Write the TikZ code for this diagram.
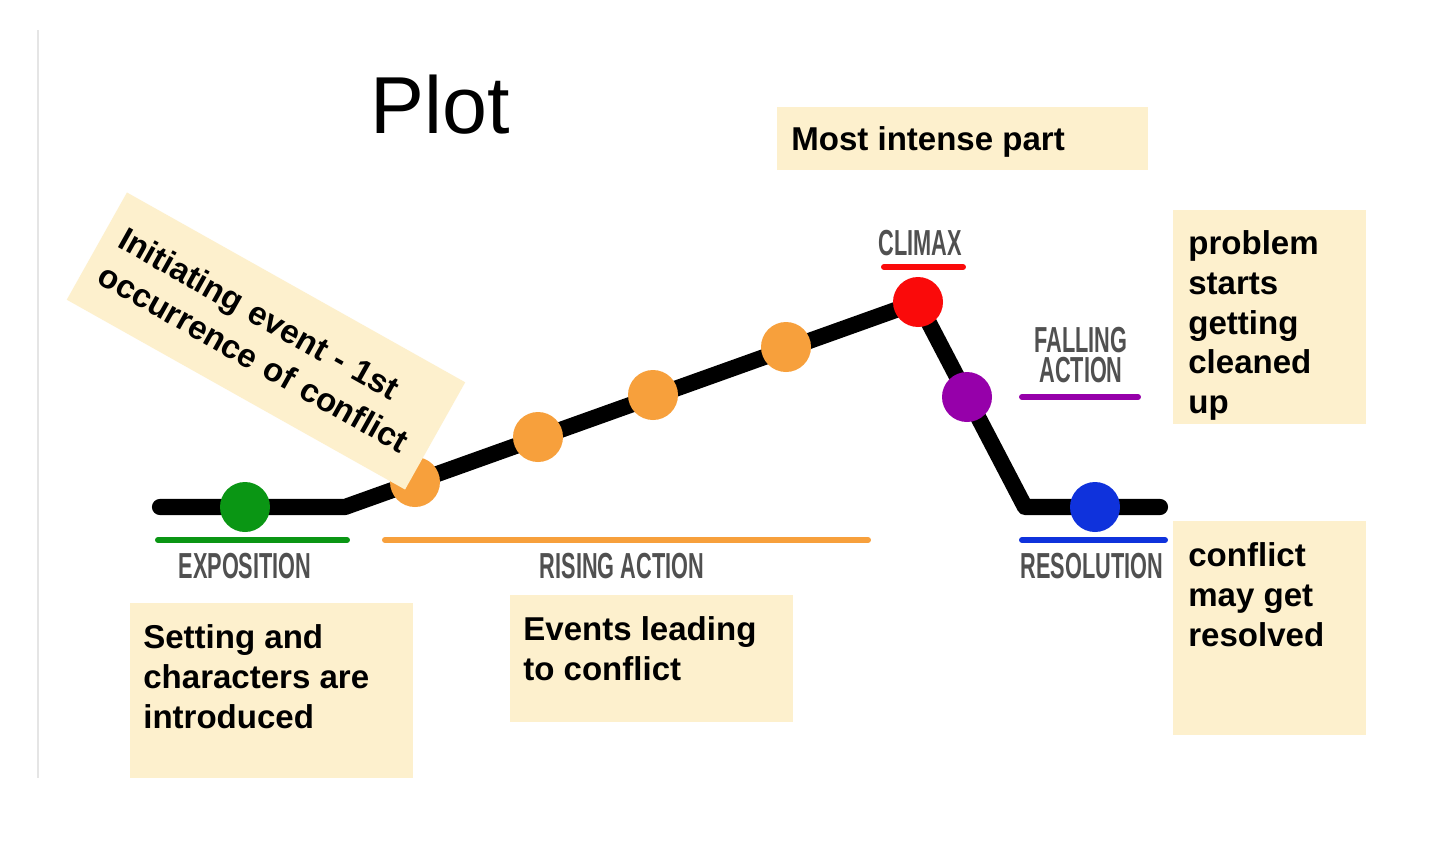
\documentclass[tikz,border=0pt]{standalone}
\usepackage{fontspec}
\setmainfont{Liberation Sans}
\newfontfamily\stagefont[FakeStretch=0.6]{Liberation Sans}
\usetikzlibrary{calc}
\definecolor{note}{RGB}{253,240,205}
\definecolor{expo}{RGB}{10,150,20}
\definecolor{rise}{RGB}{247,160,60}
\definecolor{peak}{RGB}{250,10,10}
\definecolor{fall}{RGB}{150,0,170}
\definecolor{resol}{RGB}{15,50,220}
\definecolor{stagegray}{RGB}{80,80,80}
\begin{document}
\begin{tikzpicture}[x=0.02cm,y=-0.02cm,
 notebox/.style={fill=note,inner sep=0,anchor=north west},
 notetxt/.style={anchor=north west,inner sep=0,align=left,font=\fontsize{18.8}{22.7}\selectfont\bfseries},
 dot/.style={circle,fill=#1,inner sep=0,minimum size=1cm},
 stage/.style={text=stagegray,inner sep=0,align=center,font=\stagefont\bfseries\fontsize{20.6}{17.6}\selectfont},
 bar/.style={line width=3.4pt,line cap=round,#1}]
\path[use as bounding box,fill=white](0,0)rectangle(1440,849);
\draw[line width=1.5pt,black!10](38,30)--(38,778);
\node[font=\fontsize{46}{50}\selectfont](title)at(440,105){Plot};
% the plot line
\coordinate(start)at(160,507);\coordinate(bend1)at(345,507);\coordinate(top)at(918,302);
\coordinate(bend2)at(1025,507);\coordinate(end)at(1160,507);
\draw[line width=9.2pt,line cap=round,line join=round](start)--(bend1)--(top)--(bend2)--(end);
\node[dot=expo](e)at(245,507){};
\node[dot=rise](r1)at(415,482){};\node[dot=rise](r2)at(538,437){};
\node[dot=rise](r3)at(653,395){};\node[dot=rise](r4)at(786,347){};
\node[dot=peak](c)at(top){};\node[dot=fall](f)at(967,397){};\node[dot=resol](s)at(1095,507){};
% stage names
\draw[bar=expo](158,540)--(347,540);\node[stage](expo)at(245,566){EXPOSITION};
\draw[bar=rise](385,540)--(868,540);\node[stage](rising)at(622,566){RISING ACTION};
\draw[bar=peak](884,267)--(963,267);\node[stage](climax)at(920,243){CLIMAX};
\draw[bar=fall](1022,397)--(1138,397);\node[stage](falling)at(1081,355){FALLING\\ACTION};
\draw[bar=resol](1022,540)--(1165,540);\node[stage](resolution)at(1092,566){RESOLUTION};
% notes
\node[notebox,minimum width=7.42cm,minimum height=1.26cm](intense)at(777,107){};
\node[notetxt]at($(intense.north west)+(14,19)$){Most intense part};
\node[notebox,minimum width=5.66cm,minimum height=3.5cm](setting)at(130,603){};
\node[notetxt]at($(setting.north west)+(13,21)$){Setting and\\characters are\\introduced};
\node[notebox,minimum width=5.66cm,minimum height=2.54cm](events)at(510,595){};
\node[notetxt]at($(events.north west)+(13,21)$){Events leading\\to conflict};
\node[notebox,minimum width=3.86cm,minimum height=4.28cm](problem)at(1173,210){};
\node[notetxt]at($(problem.north west)+(15,20)$){problem\\starts\\getting\\cleaned\\up};
\node[notebox,minimum width=3.86cm,minimum height=4.28cm](conflict)at(1173,521){};
\node[notetxt]at($(conflict.north west)+(15,21)$){conflict\\may get\\resolved};
\node[fill=note,rotate=-29.3,inner xsep=0.34cm,inner ysep=0,text width=7.08cm,minimum height=2.46cm,
 align=left,font=\fontsize{18.8}{23.8}\selectfont\bfseries](initiating)at(266,341){Initiating event - 1st\\occurrence of conflict};
\end{tikzpicture}
\end{document}
